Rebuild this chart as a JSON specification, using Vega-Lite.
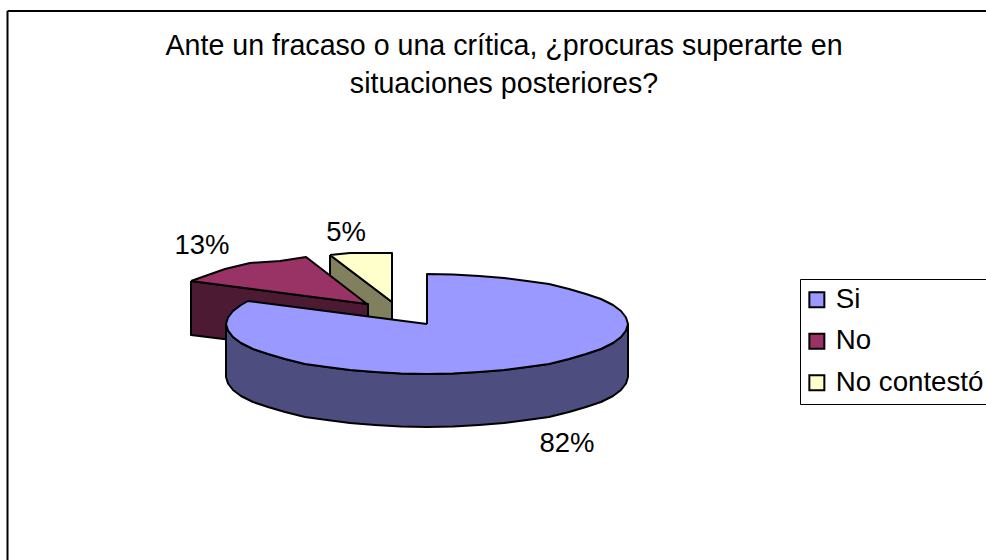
{"$schema":"https://vega.github.io/schema/vega-lite/v6.json","width":986,"height":560,"autosize":{"type":"none"},"padding":0,"background":"white","config":{"view":{"stroke":null},"font":"Liberation Sans"},"title":{"text":["Ante un fracaso o una crítica, ¿procuras superarte en","situaciones posteriores?"],"orient":"top","anchor":"middle","dx":11,"offset":-99,"fontSize":28.6,"fontWeight":"normal","lineHeight":38,"color":"black","font":"Liberation Sans"},"layer":[{"data":{"values":[{"cara":"No contestó lateral","n":1,"x":-97,"y":69},{"cara":"No contestó lateral","n":2,"x":-35,"y":22},{"cara":"No contestó lateral","n":3,"x":-35,"y":-31},{"cara":"No contestó lateral","n":4,"x":-97,"y":16},{"cara":"No contestó lateral","n":5,"x":-97,"y":69},{"cara":"No contestó","n":1,"x":-97,"y":69},{"cara":"No contestó","n":2,"x":-77,"y":71},{"cara":"No contestó","n":3,"x":-35,"y":71},{"cara":"No contestó","n":4,"x":-35,"y":22},{"cara":"No contestó","n":5,"x":-97,"y":69},{"cara":"No lateral","n":1,"x":-236,"y":43},{"cara":"No lateral","n":2,"x":-59,"y":20},{"cara":"No lateral","n":3,"x":-59,"y":-33},{"cara":"No lateral","n":4,"x":-236,"y":-11},{"cara":"No lateral","n":5,"x":-236,"y":43},{"cara":"No","n":1,"x":-236,"y":43},{"cara":"No","n":2,"x":-202,"y":55},{"cara":"No","n":3,"x":-177,"y":61},{"cara":"No","n":4,"x":-147,"y":63},{"cara":"No","n":5,"x":-121,"y":67},{"cara":"No","n":6,"x":-60,"y":20},{"cara":"No","n":7,"x":-236,"y":43},{"cara":"Si lateral","n":1,"x":201,"y":0},{"cara":"Si lateral","n":2,"x":199,"y":-6.5},{"cara":"Si lateral","n":3,"x":194,"y":-13},{"cara":"Si lateral","n":4,"x":186,"y":-19},{"cara":"Si lateral","n":5,"x":174,"y":-25},{"cara":"Si lateral","n":6,"x":159,"y":-30},{"cara":"Si lateral","n":7,"x":142,"y":-35},{"cara":"Si lateral","n":8,"x":122,"y":-40},{"cara":"Si lateral","n":9,"x":100,"y":-43},{"cara":"Si lateral","n":10,"x":77,"y":-46},{"cara":"Si lateral","n":11,"x":52,"y":-48},{"cara":"Si lateral","n":12,"x":26,"y":-49.6},{"cara":"Si lateral","n":13,"x":0,"y":-50},{"cara":"Si lateral","n":14,"x":-26,"y":-49.6},{"cara":"Si lateral","n":15,"x":-52,"y":-48},{"cara":"Si lateral","n":16,"x":-77,"y":-46},{"cara":"Si lateral","n":17,"x":-100,"y":-43},{"cara":"Si lateral","n":18,"x":-122,"y":-40},{"cara":"Si lateral","n":19,"x":-142,"y":-35},{"cara":"Si lateral","n":20,"x":-159,"y":-30},{"cara":"Si lateral","n":21,"x":-174,"y":-25},{"cara":"Si lateral","n":22,"x":-186,"y":-19},{"cara":"Si lateral","n":23,"x":-194,"y":-13},{"cara":"Si lateral","n":24,"x":-199,"y":-6.5},{"cara":"Si lateral","n":25,"x":-201,"y":0},{"cara":"Si lateral","n":26,"x":-201,"y":-53},{"cara":"Si lateral","n":27,"x":-199,"y":-59.5},{"cara":"Si lateral","n":28,"x":-194,"y":-66},{"cara":"Si lateral","n":29,"x":-186,"y":-72},{"cara":"Si lateral","n":30,"x":-174,"y":-78},{"cara":"Si lateral","n":31,"x":-159,"y":-83},{"cara":"Si lateral","n":32,"x":-142,"y":-88},{"cara":"Si lateral","n":33,"x":-122,"y":-93},{"cara":"Si lateral","n":34,"x":-100,"y":-96},{"cara":"Si lateral","n":35,"x":-77,"y":-99},{"cara":"Si lateral","n":36,"x":-52,"y":-101},{"cara":"Si lateral","n":37,"x":-26,"y":-102.6},{"cara":"Si lateral","n":38,"x":0,"y":-103},{"cara":"Si lateral","n":39,"x":26,"y":-102.6},{"cara":"Si lateral","n":40,"x":52,"y":-101},{"cara":"Si lateral","n":41,"x":77,"y":-99},{"cara":"Si lateral","n":42,"x":100,"y":-96},{"cara":"Si lateral","n":43,"x":122,"y":-93},{"cara":"Si lateral","n":44,"x":142,"y":-88},{"cara":"Si lateral","n":45,"x":159,"y":-83},{"cara":"Si lateral","n":46,"x":174,"y":-78},{"cara":"Si lateral","n":47,"x":186,"y":-72},{"cara":"Si lateral","n":48,"x":194,"y":-66},{"cara":"Si lateral","n":49,"x":199,"y":-59.5},{"cara":"Si lateral","n":50,"x":201,"y":-53},{"cara":"Si lateral","n":51,"x":201,"y":0},{"cara":"Si","n":1,"x":0,"y":0},{"cara":"Si","n":2,"x":0,"y":50},{"cara":"Si","n":3,"x":26,"y":49.6},{"cara":"Si","n":4,"x":52,"y":48},{"cara":"Si","n":5,"x":77,"y":46},{"cara":"Si","n":6,"x":100,"y":43},{"cara":"Si","n":7,"x":122,"y":40},{"cara":"Si","n":8,"x":142,"y":35},{"cara":"Si","n":9,"x":159,"y":30},{"cara":"Si","n":10,"x":174,"y":25},{"cara":"Si","n":11,"x":186,"y":19},{"cara":"Si","n":12,"x":194,"y":13},{"cara":"Si","n":13,"x":199,"y":6.5},{"cara":"Si","n":14,"x":201,"y":0},{"cara":"Si","n":15,"x":199,"y":-6.5},{"cara":"Si","n":16,"x":194,"y":-13},{"cara":"Si","n":17,"x":186,"y":-19},{"cara":"Si","n":18,"x":174,"y":-25},{"cara":"Si","n":19,"x":159,"y":-30},{"cara":"Si","n":20,"x":142,"y":-35},{"cara":"Si","n":21,"x":122,"y":-40},{"cara":"Si","n":22,"x":100,"y":-43},{"cara":"Si","n":23,"x":77,"y":-46},{"cara":"Si","n":24,"x":52,"y":-48},{"cara":"Si","n":25,"x":26,"y":-49.6},{"cara":"Si","n":26,"x":0,"y":-50},{"cara":"Si","n":27,"x":-26,"y":-49.6},{"cara":"Si","n":28,"x":-52,"y":-48},{"cara":"Si","n":29,"x":-77,"y":-46},{"cara":"Si","n":30,"x":-100,"y":-43},{"cara":"Si","n":31,"x":-122,"y":-40},{"cara":"Si","n":32,"x":-142,"y":-35},{"cara":"Si","n":33,"x":-159,"y":-30},{"cara":"Si","n":34,"x":-174,"y":-25},{"cara":"Si","n":35,"x":-186,"y":-19},{"cara":"Si","n":36,"x":-194,"y":-13},{"cara":"Si","n":37,"x":-199,"y":-6.5},{"cara":"Si","n":38,"x":-201,"y":0},{"cara":"Si","n":39,"x":-199,"y":6.5},{"cara":"Si","n":40,"x":-194,"y":13},{"cara":"Si","n":41,"x":-186,"y":19},{"cara":"Si","n":42,"x":-179,"y":23},{"cara":"Si","n":43,"x":0,"y":0}]},"mark":{"type":"line","stroke":"black","strokeWidth":2,"strokeJoin":"round"},"encoding":{"x":{"field":"x","type":"quantitative","scale":{"domain":[-427,559],"nice":false,"zero":false},"axis":null},"y":{"field":"y","type":"quantitative","scale":{"domain":[-236,324],"nice":false,"zero":false},"axis":null},"order":{"field":"n","type":"quantitative"},"detail":{"field":"cara"},"fill":{"field":"cara","type":"nominal","sort":null,"scale":{"domain":["Si","No","No contestó","Si lateral","No lateral","No contestó lateral"],"range":["#9999FF","#993366","#FFFFCC","#4D4D80","#4D1A33","#80805F"]},"legend":{"values":["Si","No","No contestó"],"title":null,"orient":"none","legendX":800,"legendY":279,"fillColor":"white","strokeColor":"black","padding":7,"symbolType":"square","symbolSize":225,"symbolStrokeWidth":2,"symbolStrokeColor":"black","symbolOffset":-4,"labelFontSize":27.7,"labelColor":"black","labelFont":"Liberation Sans","rowPadding":12.5,"labelOffset":5,"symbolOpacity":1}}}},{"data":{"values":[{"respuesta":"Si","porcentaje":0.82,"x":140,"y":-120},{"respuesta":"No","porcentaje":0.13,"x":-225,"y":78},{"respuesta":"No contestó","porcentaje":0.05,"x":-81,"y":91}]},"mark":{"type":"text","fontSize":27.5,"color":"black","font":"Liberation Sans"},"encoding":{"x":{"field":"x","type":"quantitative"},"y":{"field":"y","type":"quantitative"},"text":{"field":"porcentaje","type":"quantitative","format":".0%"}}},{"data":{"values":[{"x":-419.5,"y":313,"y2":-236}]},"mark":{"type":"rule","color":"black","strokeWidth":2},"encoding":{"x":{"field":"x","type":"quantitative"},"y":{"field":"y","type":"quantitative"},"y2":{"field":"y2"}}},{"data":{"values":[{"x":-419.5,"x2":559,"y":313}]},"mark":{"type":"rule","color":"black","strokeWidth":2},"encoding":{"x":{"field":"x","type":"quantitative"},"x2":{"field":"x2"},"y":{"field":"y","type":"quantitative"}}}]}
